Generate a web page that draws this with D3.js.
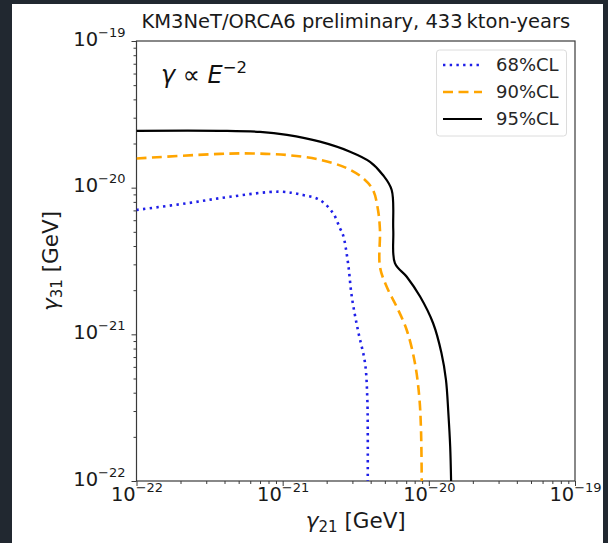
<!DOCTYPE html>
<html><head><meta charset="utf-8">
<script src="https://cdn.jsdelivr.net/npm/d3@7"></script>
<style>html,body{margin:0;padding:0;background:#212830;}svg{display:block;}</style>
</head><body><svg id="c" width="608" height="543"></svg>
<script>
// ---- data ----
const titleText = "KM3NeT/ORCA6 preliminary, 433\u2009kton-years";
const majorExps = [-22, -21, -20, -19];
const seriesNames = ["68%CL", "90%CL", "95%CL"];

const gamma21_68 = [1.0e-22, 2.20e-22, 4.37e-22, 9.59e-22, 1.38e-21, 1.80e-21, 2.21e-21, 2.46e-21, 2.59e-21, 2.80e-21, 2.97e-21, 3.27e-21, 3.66e-21, 3.79e-21, 3.82e-21, 3.82e-21];
const gamma31_68 = [7.05e-21, 7.82e-21, 8.67e-21, 9.39e-21, 8.91e-21, 8.24e-21, 6.71e-21, 5.31e-21, 4.75e-21, 3.06e-21, 1.81e-21, 1.07e-21, 6.38e-22, 3.76e-22, 2.23e-22, 1.0e-22];

const gamma21_90 = [1.0e-22, 3.73e-22, 6.26e-22, 1.07e-21, 1.80e-21, 2.74e-21, 3.55e-21, 4.15e-21, 4.49e-21, 4.63e-21, 4.63e-21, 5.15e-21, 6.03e-21, 7.06e-21, 8.03e-21, 8.60e-21, 8.84e-21, 8.94e-21];
const gamma31_90 = [1.58e-20, 1.70e-20, 1.71e-20, 1.67e-20, 1.55e-20, 1.36e-20, 1.16e-20, 9.64e-21, 7.05e-21, 5.14e-21, 2.89e-21, 2.11e-21, 1.54e-21, 1.07e-21, 6.38e-22, 3.76e-22, 2.23e-22, 1.0e-22];

const gamma21_95 = [1.0e-22, 3.73e-22, 7.0e-22, 1.07e-21, 1.80e-21, 2.89e-21, 3.96e-21, 4.85e-21, 5.57e-21, 5.71e-21, 5.86e-21, 7.06e-21, 8.71e-21, 1.07e-20, 1.22e-20, 1.31e-20, 1.36e-20, 1.40e-20, 1.42e-20];
const gamma31_95 = [2.44e-20, 2.44e-20, 2.40e-20, 2.29e-20, 2.06e-20, 1.76e-20, 1.50e-20, 1.22e-20, 9.64e-21, 5.14e-21, 3.06e-21, 2.47e-21, 1.81e-21, 1.19e-21, 7.46e-22, 4.89e-22, 2.91e-22, 1.71e-22, 1.0e-22];

// ---- layout ----
const svg = d3.select("#c");
const W = 608, H = 543;
const L = 136.5, R = 575, T = 41, B = 481;
const FONT = "DejaVu Sans, sans-serif";

svg.append("rect").attr("width", W).attr("height", H).attr("fill", "#212830");
svg.append("rect").attr("x", 12).attr("y", 4).attr("width", 591).attr("height", 539).attr("fill", "#ffffff");

const x = d3.scaleLog().domain([1e-22, 1e-19]).range([L, R]);
const y = d3.scaleLog().domain([1e-22, 1e-19]).range([B, T]);

const majors = majorExps.map(e => Number("1e" + e));
const minors = [];
majorExps.slice(0, -1).forEach(e => { for (let m = 2; m <= 9; m++) minors.push(Number(m + "e" + e)); });

const axisColor = "#3a3a3a";
const gxm = svg.append("g").attr("transform", `translate(0,${B})`)
  .call(d3.axisBottom(x).tickValues(minors).tickSize(3).tickFormat(() => ""));
const gym = svg.append("g").attr("transform", `translate(${L},0)`)
  .call(d3.axisLeft(y).tickValues(minors).tickSize(3).tickFormat(() => ""));
const gx = svg.append("g").attr("transform", `translate(0,${B})`)
  .call(d3.axisBottom(x).tickValues(majors).tickSize(5).tickPadding(5).tickFormat(() => ""));
const gy = svg.append("g").attr("transform", `translate(${L},0)`)
  .call(d3.axisLeft(y).tickValues(majors).tickSize(5).tickPadding(6).tickFormat(() => ""));
[gxm, gym, gx, gy].forEach(g => {
  g.select(".domain").remove();
  g.selectAll("line").attr("stroke", axisColor).attr("stroke-width", 1);
});

function powLabel(sel, exps) {
  sel.selectAll(".tick text").each(function (d, i) {
    const t = d3.select(this).text(null).attr("fill", "#1a1a1a").attr("font-family", FONT);
    t.append("tspan").attr("font-size", 19.5).text("10");
    t.append("tspan").attr("font-size", 13).attr("dy", -9).text("\u2212" + Math.abs(exps[i]));
  });
}
powLabel(gx, majorExps);
gx.selectAll(".tick text").attr("dy", "1.0em").attr("text-anchor", "middle");
powLabel(gy, majorExps);
gy.selectAll(".tick text").attr("dy", "0.42em").attr("text-anchor", "end");

// frame
svg.append("rect").attr("x", L).attr("y", T).attr("width", R - L).attr("height", B - T)
  .attr("fill", "none").attr("stroke", axisColor).attr("stroke-width", 1.2);

// curves
svg.append("clipPath").attr("id", "clip").append("rect")
  .attr("x", L).attr("y", T).attr("width", R - L).attr("height", B - T);
const line = d3.line().x(d => x(d[0])).y(d => y(d[1])).curve(d3.curveCatmullRom.alpha(0.5));
const series = [
  { name: seriesNames[0], xs: gamma21_68, ys: gamma31_68, color: "#1f1fe8", dash: "2.4,4.3", w: 2.6 },
  { name: seriesNames[1], xs: gamma21_90, ys: gamma31_90, color: "#ffa500", dash: "10,5.5", w: 2.6 },
  { name: seriesNames[2], xs: gamma21_95, ys: gamma31_95, color: "#000000", dash: null, w: 2.2 }
];
const cg = svg.append("g").attr("clip-path", "url(#clip)");
series.forEach(s => {
  cg.append("path").datum(s.xs.map((v, i) => [v, s.ys[i]]))
    .attr("d", line).attr("fill", "none").attr("stroke", s.color)
    .attr("stroke-width", s.w).attr("stroke-dasharray", s.dash);
});

// legend
const lg = svg.append("g");
lg.append("rect").attr("x", 436.5).attr("y", 50).attr("width", 130).attr("height", 86)
  .attr("rx", 3).attr("fill", "#fff").attr("stroke", "#dcdcdc").attr("stroke-width", 1);
const rowY = [65, 92, 119];
series.forEach((s, i) => {
  lg.append("line").attr("x1", 443).attr("x2", 482).attr("y1", rowY[i]).attr("y2", rowY[i])
    .attr("stroke", s.color).attr("stroke-width", s.w).attr("stroke-dasharray", s.dash);
  lg.append("text").attr("x", 496).attr("y", rowY[i]).attr("dy", "0.36em")
    .attr("font-family", FONT).attr("font-size", 18).attr("fill", "#262626").text(s.name);
});

// title
svg.append("text").attr("x", (L + R) / 2).attr("y", 28).attr("text-anchor", "middle")
  .attr("font-family", FONT).attr("font-size", 19.5).attr("fill", "#1a1a1a").text(titleText);

// annotation
const ann = svg.append("text").attr("x", 161).attr("y", 83).attr("font-family", FONT)
  .attr("font-size", 24).attr("fill", "#111");
ann.append("tspan").attr("font-style", "italic").text("\u03b3");
ann.append("tspan").text(" \u221d ");
ann.append("tspan").attr("font-style", "italic").text("E");
ann.append("tspan").attr("font-size", 16.5).attr("dy", -10).text("\u22122");

// axis labels
const xl = svg.append("text").attr("x", (L + R) / 2).attr("y", 528).attr("text-anchor", "middle")
  .attr("font-family", FONT).attr("font-size", 21.5).attr("fill", "#1a1a1a");
xl.append("tspan").attr("font-style", "italic").text("\u03b3");
xl.append("tspan").attr("font-size", 15).attr("dy", 4).text("21");
xl.append("tspan").attr("dy", -4).text(" [GeV]");

const yl = svg.append("text").attr("transform", `translate(58,${(T + B) / 2}) rotate(-90)`)
  .attr("text-anchor", "middle").attr("font-family", FONT).attr("font-size", 21.5).attr("fill", "#1a1a1a");
yl.append("tspan").attr("font-style", "italic").text("\u03b3");
yl.append("tspan").attr("font-size", 15).attr("dy", 4).text("31");
yl.append("tspan").attr("dy", -4).text(" [GeV]");
</script></body></html>
